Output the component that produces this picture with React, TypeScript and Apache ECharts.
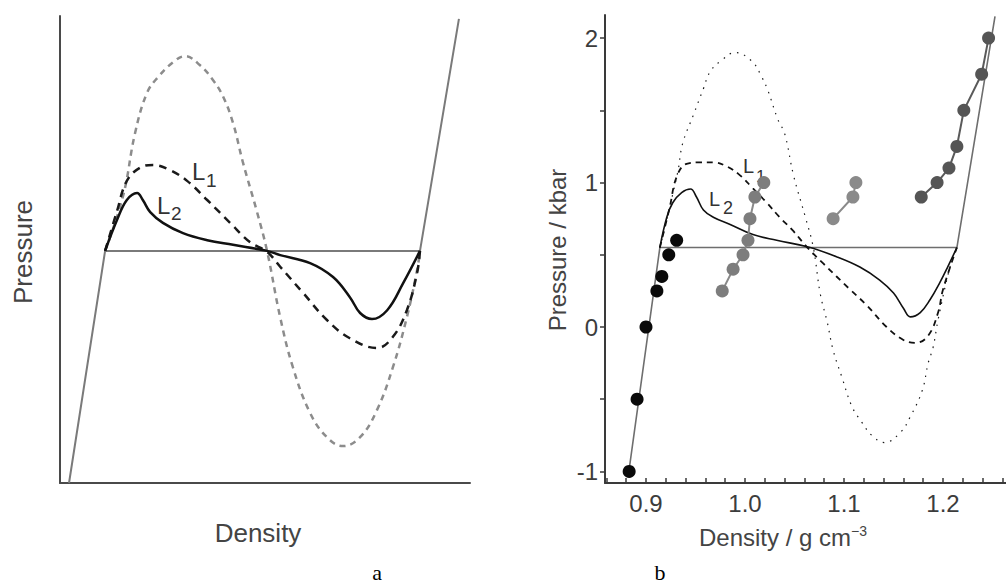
import React, { useEffect, useRef } from "react";
import * as echarts from "echarts";

// ---------- Panel a (schematic, arbitrary units, no ticks) ----------
const aEosX = [0.22, 1.1, 8.78, 9.73];
const aEosY = [0, 4.97, 4.97, 9.94];

const aLoopX = [1.1, 1.54, 1.83, 2.12, 2.39, 2.76, 3.05, 3.41, 3.73, 3.98, 4.22, 4.46, 4.8, 5.05, 5.37, 5.68, 6.1, 6.51, 6.9, 7.32, 7.73, 8.12, 8.46, 8.71, 8.78];
const aLoopY = [4.97, 6.15, 7.49, 8.35, 8.69, 9.01, 9.14, 8.95, 8.63, 8.27, 7.71, 6.87, 5.82, 4.97, 3.55, 2.48, 1.5, 0.98, 0.79, 0.98, 1.56, 2.48, 3.55, 4.56, 4.97];

const aL1X = [1.1, 1.39, 1.63, 1.95, 2.27, 2.68, 3.1, 3.59, 4.15, 4.63, 5.05, 5.37, 5.93, 6.51, 7.07, 7.73, 8.12, 8.46, 8.71, 8.78];
const aL1Y = [4.97, 5.82, 6.47, 6.75, 6.81, 6.7, 6.47, 6.06, 5.57, 5.16, 4.95, 4.63, 4.07, 3.49, 3.1, 2.89, 3.13, 3.7, 4.5, 4.97];

const aL2X = [1.1, 1.39, 1.63, 1.88, 2.02, 2.2, 2.51, 3.0, 3.59, 4.22, 5.05, 5.37, 6.1, 6.66, 7.07, 7.32, 7.61, 7.98, 8.37, 8.78];
const aL2Y = [4.97, 5.63, 6.06, 6.21, 6.06, 5.8, 5.57, 5.35, 5.2, 5.1, 4.97, 4.88, 4.71, 4.41, 3.98, 3.64, 3.51, 3.7, 4.28, 4.97];

// ---------- Panel b (density g/cm3, pressure kbar) ----------
const bEosD = [0.8825, 0.914, 1.214, 1.2525];
const bEosP = [-1.01, 0.55, 0.55, 2.15];

const bLoopD = [0.914, 0.932, 0.937, 0.948, 0.958, 0.965, 0.977, 0.99, 1.007, 1.017, 1.023, 1.033, 1.04, 1.049, 1.061, 1.069, 1.076, 1.083, 1.089, 1.098, 1.108, 1.118, 1.128, 1.141, 1.157, 1.167, 1.179, 1.185, 1.19, 1.195, 1.207, 1.214];
const bLoopP = [0.55, 1.07, 1.27, 1.47, 1.65, 1.77, 1.85, 1.9, 1.84, 1.73, 1.64, 1.44, 1.34, 1.05, 0.76, 0.55, 0.23, 0.035, -0.16, -0.35, -0.55, -0.66, -0.75, -0.8, -0.73, -0.62, -0.44, -0.25, -0.14, 0.05, 0.415, 0.55];

const bL1D = [0.914, 0.924, 0.931, 0.941, 0.955, 0.968, 0.982, 0.995, 1.008, 1.022, 1.035, 1.048, 1.063, 1.079, 1.106, 1.123, 1.143, 1.16, 1.172, 1.185, 1.195, 1.2, 1.214];
const bL1P = [0.55, 0.83, 1.04, 1.13, 1.14, 1.14, 1.11, 1.05, 0.96, 0.86, 0.76, 0.67, 0.55, 0.44, 0.26, 0.15, 0.0, -0.09, -0.11, -0.06, 0.1, 0.26, 0.55];

const bL2D = [0.914, 0.921, 0.927, 0.936, 0.945, 0.951, 0.958, 0.968, 0.985, 1.008, 1.032, 1.063, 1.093, 1.116, 1.136, 1.15, 1.16, 1.167, 1.177, 1.187, 1.197, 1.205, 1.214];
const bL2P = [0.55, 0.76, 0.86, 0.93, 0.955, 0.9, 0.81, 0.76, 0.71, 0.64, 0.6, 0.555, 0.485, 0.415, 0.325, 0.235, 0.13, 0.07, 0.1, 0.19, 0.31, 0.42, 0.55];

const bSet1D = [0.883, 0.891, 0.9, 0.911, 0.916, 0.923, 0.931];
const bSet1P = [-1.0, -0.5, 0.0, 0.25, 0.35, 0.5, 0.6];

const bSet2D = [0.977, 0.988, 0.998, 1.003, 1.005, 1.01, 1.019];
const bSet2P = [0.25, 0.4, 0.5, 0.6, 0.75, 0.9, 1.0];

const bSet3D = [1.089, 1.109, 1.112];
const bSet3P = [0.75, 0.9, 1.0];

const bSet4D = [1.178, 1.194, 1.206, 1.214, 1.221, 1.239, 1.246];
const bSet4P = [0.9, 1.0, 1.1, 1.25, 1.5, 1.75, 2.0];

const bXLabels = [0.9, 1.0, 1.1, 1.2];
const bXTicks = [0.86, 0.88, 0.9, 0.92, 0.94, 0.96, 0.98, 1.0, 1.02, 1.04, 1.06, 1.08, 1.1, 1.12, 1.14, 1.16, 1.18, 1.2, 1.22, 1.24, 1.26];
const bYLabels = [-1, 0, 1, 2];
const bYTicks = [-1, -0.5, 0, 0.5, 1, 1.5, 2];

const zip = (xs: number[], ys: number[]) => xs.map((x, i) => [x, ys[i]]);

const SANS = '"Liberation Sans", Arial, Helvetica, sans-serif';
const SERIF = '"Liberation Serif", "Times New Roman", serif';

export default function App() {
  const ref = useRef<HTMLDivElement>(null);
  useEffect(() => {
    const chart = echarts.init(ref.current!, null, { renderer: "svg" });
    const axisLineA = { show: true, onZero: false, lineStyle: { color: "#4a4a4a", width: 2 } };
    const option: any = {
      animation: false,
      backgroundColor: "#ffffff",
      grid: [
        { left: 60, top: 16, width: 410, height: 467 },
        { left: 605, top: 15, width: 401, height: 468 },
      ],
      xAxis: [
        {
          gridIndex: 0, type: "value", min: 0, max: 10,
          axisLine: axisLineA, axisTick: { show: false }, axisLabel: { show: false }, splitLine: { show: false },
        },
        {
          gridIndex: 1, type: "value", min: 0.8586, max: 1.2636,
          axisLine: { show: true, onZero: false, lineStyle: { color: "#3a3a3a", width: 2 } },
          axisTick: { show: true, inside: true, length: 5, customValues: bXTicks, lineStyle: { color: "#3a3a3a", width: 1.5 } },
          axisLabel: {
            show: true, customValues: bXLabels, margin: 8, fontSize: 24, fontFamily: SANS, color: "#3c3c3c",
            formatter: (v: number) => v.toFixed(1),
          },
          splitLine: { show: false },
        },
      ],
      yAxis: [
        {
          gridIndex: 0, type: "value", min: 0, max: 10,
          axisLine: axisLineA, axisTick: { show: false }, axisLabel: { show: false }, splitLine: { show: false },
        },
        {
          gridIndex: 1, type: "value", min: -1.08, max: 2.16,
          axisLine: { show: true, onZero: false, lineStyle: { color: "#3a3a3a", width: 2 } },
          axisTick: { show: true, inside: false, length: 5, customValues: bYTicks, lineStyle: { color: "#3a3a3a", width: 1.5 } },
          axisLabel: {
            show: true, customValues: bYLabels, margin: 7, fontSize: 24, fontFamily: SANS, color: "#3c3c3c",
            formatter: (v: number) => String(v),
          },
          splitLine: { show: false },
        },
      ],
      series: [
        // panel a
        {
          type: "line", xAxisIndex: 0, yAxisIndex: 0, data: zip(aEosX, aEosY), symbol: "none",
          lineStyle: { color: "#7a7a7a", width: 2 }, z: 2,
        },
        {
          type: "line", xAxisIndex: 0, yAxisIndex: 0, data: zip(aLoopX, aLoopY), symbol: "none", smooth: 0.4,
          lineStyle: { color: "#8c8c8c", width: 2.5, type: [6, 5] }, z: 3,
        },
        {
          type: "line", xAxisIndex: 0, yAxisIndex: 0, data: zip(aL1X, aL1Y), symbol: "none", smooth: 0.4,
          lineStyle: { color: "#1a1a1a", width: 2.5, type: [8, 6] }, z: 4,
        },
        {
          type: "line", xAxisIndex: 0, yAxisIndex: 0, data: zip(aL2X, aL2Y), symbol: "none", smooth: 0.4,
          lineStyle: { color: "#111111", width: 2.5 }, z: 5,
        },
        // panel b
        {
          type: "line", xAxisIndex: 1, yAxisIndex: 1, data: zip(bEosD, bEosP), symbol: "none",
          lineStyle: { color: "#6e6e6e", width: 1.6 }, z: 2,
        },
        {
          type: "line", xAxisIndex: 1, yAxisIndex: 1, data: zip(bLoopD, bLoopP), symbol: "none", smooth: 0.4,
          lineStyle: { color: "#1a1a1a", width: 1.2, type: [1.5, 6] }, z: 3,
        },
        {
          type: "line", xAxisIndex: 1, yAxisIndex: 1, data: zip(bL1D, bL1P), symbol: "none", smooth: 0.4,
          lineStyle: { color: "#111111", width: 1.8, type: [6, 5] }, z: 4,
        },
        {
          type: "line", xAxisIndex: 1, yAxisIndex: 1, data: zip(bL2D, bL2P), symbol: "none", smooth: 0.4,
          lineStyle: { color: "#111111", width: 1.6 }, z: 5,
        },
        {
          type: "scatter", xAxisIndex: 1, yAxisIndex: 1, data: zip(bSet1D, bSet1P), symbol: "circle", symbolSize: 13,
          itemStyle: { color: "#0a0a0a", opacity: 1 }, z: 6,
        },
        {
          type: "line", xAxisIndex: 1, yAxisIndex: 1, data: zip(bSet2D, bSet2P), symbol: "circle", symbolSize: 13,
          lineStyle: { color: "#8a8a8a", width: 2 }, itemStyle: { color: "#7d7d7d" }, z: 6,
        },
        {
          type: "line", xAxisIndex: 1, yAxisIndex: 1, data: zip(bSet3D, bSet3P), symbol: "circle", symbolSize: 13,
          lineStyle: { color: "#8a8a8a", width: 2 }, itemStyle: { color: "#8a8a8a" }, z: 6,
        },
        {
          type: "line", xAxisIndex: 1, yAxisIndex: 1, data: zip(bSet4D, bSet4P), symbol: "circle", symbolSize: 13,
          lineStyle: { color: "#5a5a5a", width: 2 }, itemStyle: { color: "#555555" }, z: 6,
        },
      ],
      graphic: [
        // panel a labels
        { type: "text", x: 23, y: 252, rotation: Math.PI / 2, style: { text: "Pressure", font: `26px ${SANS}`, fill: "#444", align: "center", verticalAlign: "middle" } },
        { type: "text", x: 258, y: 533, style: { text: "Density", font: `26px ${SANS}`, fill: "#444", align: "center", verticalAlign: "middle" } },
        { type: "text", x: 192, y: 171, style: { text: "L", font: `24px ${SANS}`, fill: "#333", align: "left", verticalAlign: "middle" } },
        { type: "text", x: 206, y: 180, style: { text: "1", font: `19px ${SANS}`, fill: "#333", align: "left", verticalAlign: "middle" } },
        { type: "text", x: 157, y: 205, style: { text: "L", font: `24px ${SANS}`, fill: "#333", align: "left", verticalAlign: "middle" } },
        { type: "text", x: 171, y: 213, style: { text: "2", font: `19px ${SANS}`, fill: "#333", align: "left", verticalAlign: "middle" } },
        { type: "text", x: 377, y: 572, style: { text: "a", font: `22px ${SERIF}`, fill: "#000", align: "center", verticalAlign: "middle" } },
        // panel b labels
        { type: "text", x: 557, y: 250, rotation: Math.PI / 2, style: { text: "Pressure / kbar", font: `24px ${SANS}`, fill: "#444", align: "center", verticalAlign: "middle" } },
        {
          type: "text", x: 783, y: 537,
          style: {
            text: "Density / g cm{sup|−3}", font: `24px ${SANS}`, fill: "#444", align: "center", verticalAlign: "middle",
            rich: { sup: { fontSize: 14, fontFamily: SANS, fill: "#444", verticalAlign: "top", padding: [0, 0, 12, 0] } },
          },
        },
        { type: "text", x: 743, y: 166, style: { text: "L", font: `20px ${SANS}`, fill: "#333", align: "left", verticalAlign: "middle" } },
        { type: "text", x: 756, y: 176, style: { text: "1", font: `17px ${SANS}`, fill: "#333", align: "left", verticalAlign: "middle" } },
        { type: "text", x: 709, y: 199, style: { text: "L", font: `20px ${SANS}`, fill: "#333", align: "left", verticalAlign: "middle" } },
        { type: "text", x: 723, y: 208, style: { text: "2", font: `18px ${SANS}`, fill: "#333", align: "left", verticalAlign: "middle" } },
        { type: "text", x: 660, y: 572, style: { text: "b", font: `22px ${SERIF}`, fill: "#000", align: "center", verticalAlign: "middle" } },
      ],
    };
    chart.setOption(option);
    return () => chart.dispose();
  }, []);
  return (
    <div
      ref={ref}
      style={{ position: "absolute", left: 0, top: 0, width: 1006, height: 588, background: "#fff" }}
    />
  );
}
